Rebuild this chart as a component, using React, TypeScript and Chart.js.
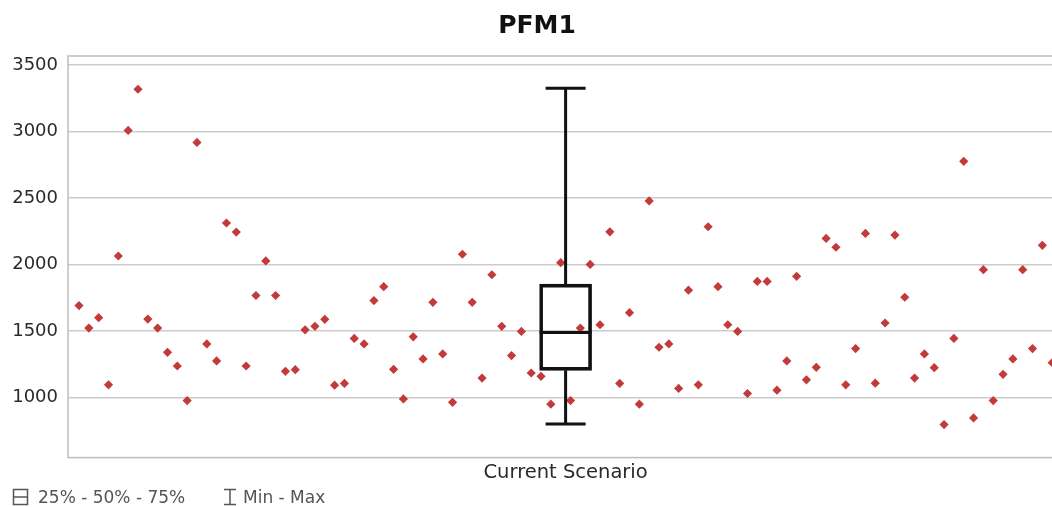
import { useEffect, useRef } from "react";
import { Chart, registerables } from "chart.js";

Chart.register(...registerables);

const chartTitle = "PFM1";
const categoryLabels = ["Current Scenario"];

const scenarioValues = [
  1691, 1522, 1600, 1095, 2064, 3008, 3318, 1590, 1522, 1340,
  1237, 977, 2918, 1403, 1275, 2312, 2244, 1237, 1767, 2027,
  1767, 1197, 1209, 1509, 1535, 1588, 1093, 1106, 1444, 1403,
  1729, 1833, 1212, 989, 1456, 1290, 1716, 1328, 964, 2077,
  1716, 1146, 1923, 1535, 1315, 1497, 1184, 1159, 950, 2014,
  977, 1522, 2001, 1547, 2246, 1106, 1638, 950, 2478, 1378,
  1403, 1068, 1807, 1095, 2284, 1833, 1547, 1497, 1030, 1873,
  1873, 1055, 1275, 1911, 1133, 1227, 2196, 2130, 1095, 1368,
  2234, 1108, 1560, 2221, 1754, 1146, 1328, 1224, 796, 1444,
  2776, 846, 1961, 977, 1174, 1290, 1961, 1368, 2144, 1262,
];

const boxMin = [800];
const boxQ1 = [1204];
const boxMedian = [1489];
const boxQ3 = [1852];
const boxMax = [3325];

const yTickValues = [1000, 1500, 2000, 2500, 3000, 3500];
const yMin = 548;
const yMax = 3568;

const legendLabels = ["25% - 50% - 75%", "Min - Max"];

const FONT = "'DejaVu Sans', Verdana, sans-serif";
const POINT_COLOR = "#c23a3a";

// category centre on the scatter's index axis
const categoryCenter = (scenarioValues.length - 1) / 2;

const framePlugin = {
  id: "frame",
  beforeDatasetsDraw(chart: any) {
    const { ctx, chartArea } = chart;
    ctx.save();
    ctx.strokeStyle = "#bdbdbd";
    ctx.lineWidth = 1.5;
    ctx.strokeRect(chartArea.left, chartArea.top, chartArea.right - chartArea.left, chartArea.bottom - chartArea.top);
    ctx.restore();
  },
};

const whiskerPlugin = {
  id: "whiskers",
  afterDatasetsDraw(chart: any) {
    const meta = chart.getDatasetMeta(0);
    const ys = chart.scales.y;
    const ctx = chart.ctx;
    meta.data.forEach((bar: any, i: number) => {
      const { x, width } = bar.getProps(["x", "width"], true);
      const yMed = ys.getPixelForValue(boxMedian[i]);
      const yLo = ys.getPixelForValue(boxQ1[i]);
      const yHi = ys.getPixelForValue(boxQ3[i]);
      const yMn = ys.getPixelForValue(boxMin[i]);
      const yMx = ys.getPixelForValue(boxMax[i]);
      const cap = 20;
      ctx.save();
      ctx.strokeStyle = "#111";
      ctx.lineWidth = 3;
      ctx.beginPath();
      ctx.moveTo(x - width / 2, yMed);
      ctx.lineTo(x + width / 2, yMed);
      ctx.moveTo(x, yHi);
      ctx.lineTo(x, yMx);
      ctx.moveTo(x - cap, yMx);
      ctx.lineTo(x + cap, yMx);
      ctx.moveTo(x, yLo);
      ctx.lineTo(x, yMn);
      ctx.moveTo(x - cap, yMn);
      ctx.lineTo(x + cap, yMn);
      ctx.stroke();
      ctx.restore();
    });
  },
};

export default function App() {
  const canvasRef = useRef<HTMLCanvasElement | null>(null);

  useEffect(() => {
    if (!canvasRef.current) return;
    const chart = new Chart(canvasRef.current, {
      type: "scatter",
      data: {
        datasets: [
          {
            type: "bar",
            label: legendLabels[0],
            data: boxQ1.map((q, i) => ({ x: categoryCenter, y: [q, boxQ3[i]] })) as any,
            backgroundColor: "rgba(0,0,0,0)",
            borderColor: "#111",
            borderWidth: 3,
            borderSkipped: false,
            barThickness: 52,
            grouped: false,
          } as any,
          {
            type: "scatter",
            label: "values",
            data: scenarioValues.map((v, i) => ({ x: i, y: v })),
            backgroundColor: POINT_COLOR,
            borderWidth: 0,
            pointStyle: "rectRot",
            pointRadius: 4.6,
          } as any,
        ],
      },
      options: {
        animation: false,
        responsive: true,
        maintainAspectRatio: false,
        layout: { padding: { left: 10, right: 18, top: 0, bottom: 18 } },
        plugins: {
          legend: { display: false },
          tooltip: { enabled: false },
          title: {
            display: true,
            text: chartTitle,
            color: "#111",
            font: { family: FONT, size: 25, weight: "bold" },
            padding: { top: 11, bottom: 15 },
          },
        },
        scales: {
          x: {
            type: "linear",
            min: -1.12,
            max: 100.2,
            offset: false,
            afterBuildTicks: (s: any) => {
              s.ticks = [{ value: categoryCenter }];
            },
            grid: { display: false, drawTicks: false },
            border: { display: false },
            ticks: {
              color: "#2a2a2a",
              padding: 4,
              autoSkip: false,
              maxRotation: 0,
              font: { family: FONT, size: 19.5 },
              callback: () => categoryLabels[0],
            },
          },
          y: {
            type: "linear",
            min: yMin,
            max: yMax,
            afterFit: (s: any) => {
              s.width = 58;
            },
            afterBuildTicks: (s: any) => {
              s.ticks = yTickValues.map((v) => ({ value: v }));
            },
            grid: { color: "#cccccc", lineWidth: 1.5, drawTicks: false },
            border: { display: false },
            ticks: {
              color: "#2a2a2a",
              padding: 10,
              font: { family: FONT, size: 18 },
              callback: (v: any) => String(v),
            },
          },
        },
      } as any,
      plugins: [framePlugin, whiskerPlugin],
    });
    return () => chart.destroy();
  }, []);

  const textStyle: any = {
    position: "absolute",
    fontFamily: FONT,
    fontSize: 17,
    lineHeight: "20px",
    color: "#555",
    whiteSpace: "nowrap",
  };

  return (
    <div style={{ position: "fixed", left: 0, top: 0, width: 1052, height: 507, overflow: "hidden", background: "#fff" }}>
      <div style={{ position: "absolute", left: 0, top: 0, width: 1082, height: 507 }}>
        <canvas ref={canvasRef} />
      </div>
      <svg style={{ position: "absolute", left: 12, top: 488 }} width="18" height="18">
        <rect x="1.5" y="1.5" width="14" height="15" fill="none" stroke="#555" strokeWidth="1.5" />
        <line x1="1.5" y1="9" x2="15.5" y2="9" stroke="#555" strokeWidth="1.5" />
      </svg>
      <span style={{ ...textStyle, left: 38, top: 487 }}>{legendLabels[0]}</span>
      <svg style={{ position: "absolute", left: 222, top: 488 }} width="16" height="18">
        <line x1="2" y1="1.5" x2="14" y2="1.5" stroke="#555" strokeWidth="1.5" />
        <line x1="8" y1="1.5" x2="8" y2="16.5" stroke="#555" strokeWidth="1.5" />
        <line x1="2" y1="16.5" x2="14" y2="16.5" stroke="#555" strokeWidth="1.5" />
      </svg>
      <span style={{ ...textStyle, left: 243, top: 487 }}>{legendLabels[1]}</span>
    </div>
  );
}
